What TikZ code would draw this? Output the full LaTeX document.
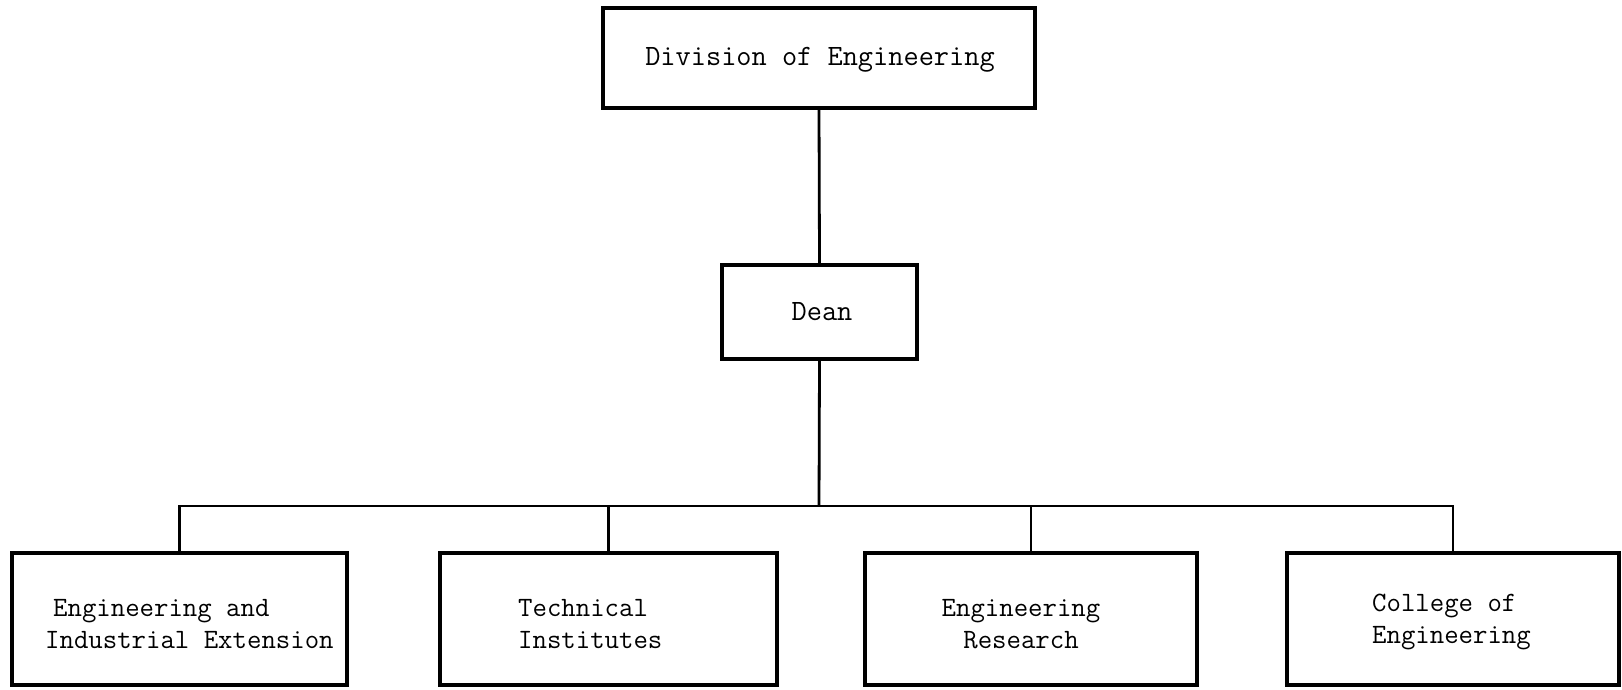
\documentclass[tikz,border=0pt]{standalone}
\begin{document}
\begin{tikzpicture}[x=1pt,y=-1pt,
  orgbox/.style={draw=black,line width=3.2pt,rectangle,inner sep=0pt},
  lbl/.style={font=\ttfamily\fontsize{28}{31.5}\selectfont,inner sep=0pt},
  biglbl/.style={font=\ttfamily\fontsize{29.5}{34}\selectfont,inner sep=0pt},
  conn/.style={draw=black,line width=2.8pt}]
\useasboundingbox (0,0) rectangle (1622,689);
\fill[white] (0,0) rectangle (1622,689);
% boxes
\node[orgbox,minimum width=432pt,minimum height=100pt] (top) at (819,58) {};
\node[orgbox,minimum width=195pt,minimum height=94pt] (dean) at (819.5,312) {};
\node[orgbox,minimum width=335pt,minimum height=132pt] (b1) at (179.5,619) {};
\node[orgbox,minimum width=337pt,minimum height=132pt] (b2) at (608.5,619) {};
\node[orgbox,minimum width=332pt,minimum height=132pt] (b3) at (1031,619) {};
\node[orgbox,minimum width=332pt,minimum height=132pt] (b4) at (1453,619) {};
% labels
\node[biglbl] (ttop) at (820,60) {Division of Engineering};
\node[biglbl] (tdean) at (822,312) {Dean};
\node[lbl,align=left,anchor=west] (t1) at (45,624) {\hspace{8pt}Engineering and\\Industrial Extension};
\node[lbl,align=left,anchor=west] (t2) at (518,624) {Technical\\Institutes};
\node[lbl,align=center] (t3) at (1021,624) {Engineering\\Research};
\node[lbl,align=left,anchor=west] (t4) at (1372,622) {College of\\Engineering};
% connectors
\coordinate (j) at (819,506);
\draw[conn] (top.south) -- (dean.north);
\draw[conn] (dean.south) -- (j);
\draw[conn] (b1.north) |- (j) -| (b4.north);
\draw[conn] (b2.north) -- (b2.north |- j);
\draw[conn] (b3.north) -- (b3.north |- j);
\end{tikzpicture}
\end{document}
